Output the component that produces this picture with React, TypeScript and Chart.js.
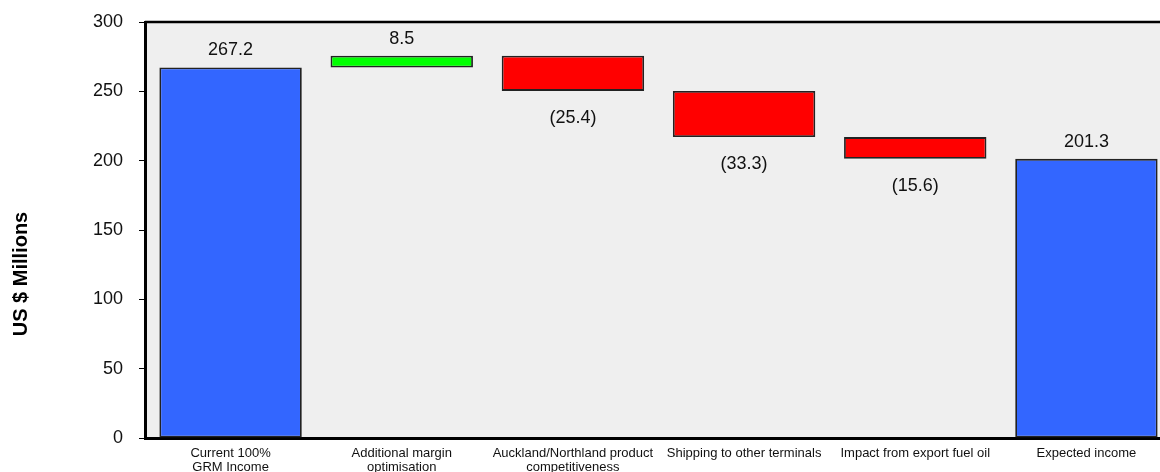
import React, { useEffect, useRef } from "react";
import { Chart, registerables } from "chart.js";

Chart.register(...registerables);

const categories: (string | string[])[] = [
  ["Current 100%", "GRM Income"],
  ["Additional margin", "optimisation"],
  ["Auckland/Northland product", "competitiveness"],
  "Shipping to other terminals",
  "Impact from export fuel oil",
  "Expected income",
];
const startValue = 267.2;
const adjustments = [8.5, -25.4, -33.3, -15.6];
const endValue = 201.3;
const yTicks = [0, 50, 100, 150, 200, 250, 300];

const FONT = "'Liberation Sans', Arial, sans-serif";

export default function App() {
  const ref = useRef<HTMLCanvasElement | null>(null);

  useEffect(() => {
    if (!ref.current) return;
    const ranges: [number, number][] = [];
    const deltas: number[] = [];
    const kinds: string[] = [];
    ranges.push([0, startValue]);
    deltas.push(startValue);
    kinds.push("total");
    let run = startValue;
    adjustments.forEach((a) => {
      ranges.push([run, run + a]);
      deltas.push(a);
      kinds.push(a >= 0 ? "up" : "down");
      run += a;
    });
    ranges.push([0, endValue]);
    deltas.push(endValue);
    kinds.push("total");
    const colors = kinds.map((k) => (k === "total" ? "#3366ff" : k === "up" ? "#00ff00" : "#ff0000"));

    const bgPlugin = {
      id: "bg",
      beforeDraw(chart: any) {
        const { ctx, chartArea: a } = chart;
        ctx.save();
        ctx.fillStyle = "#efefef";
        ctx.fillRect(a.left, a.top, a.right - a.left, a.bottom - a.top);
        ctx.restore();
      },
      afterDraw(chart: any) {
        const { ctx, chartArea: a } = chart;
        ctx.save();
        ctx.strokeStyle = "#000";
        ctx.lineWidth = 2.5;
        ctx.beginPath();
        ctx.moveTo(a.left, a.top);
        ctx.lineTo(a.right + 2, a.top);
        ctx.stroke();
        ctx.translate(21, 274);
        ctx.rotate(-Math.PI / 2);
        ctx.fillStyle = "#000";
        ctx.font = `bold 20px ${FONT}`;
        ctx.textAlign = "center";
        ctx.textBaseline = "middle";
        ctx.fillText("US $ Millions", 0, 0);
        ctx.restore();
      },
    };

    const labelPlugin = {
      id: "vals",
      afterDatasetsDraw(chart: any) {
        const { ctx } = chart;
        const meta = chart.getDatasetMeta(0);
        ctx.save();
        ctx.fillStyle = "#111";
        ctx.font = `18px ${FONT}`;
        ctx.textAlign = "center";
        ctx.textBaseline = "middle";
        meta.data.forEach((el: any, i: number) => {
          const d = deltas[i];
          const top = Math.min(el.y, el.base);
          const bottom = Math.max(el.y, el.base);
          if (d >= 0) {
            ctx.fillText(d.toFixed(1), el.x, top - 17);
          } else {
            ctx.fillText(`(${Math.abs(d).toFixed(1)})`, el.x, bottom + 27);
          }
        });
        ctx.restore();
      },
    };

    const chart = new Chart(ref.current, {
      type: "bar",
      data: {
        labels: categories,
        datasets: [
          {
            data: ranges as any,
            backgroundColor: colors,
            borderColor: "#222",
            borderWidth: 1.8,
            borderSkipped: false,
            barPercentage: 0.832,
            categoryPercentage: 1,
          },
        ],
      },
      options: {
        animation: false,
        responsive: false,
        maintainAspectRatio: false,
        layout: { padding: { top: 22, right: 4, left: 0, bottom: 0 } },
        plugins: { legend: { display: false }, tooltip: { enabled: false } },
        scales: {
          x: {
            grid: { display: false, drawTicks: false },
            border: { display: true, color: "#000", width: 3 },
            ticks: {
              color: "#111",
              font: { family: FONT, size: 13, lineHeight: 1.1 },
              padding: 8,
              maxRotation: 0,
              autoSkip: false,
            },
            afterFit(scale: any) {
              scale.height = 34;
              scale.paddingLeft = 0;
              scale.paddingRight = 0;
            },
          },
          y: {
            min: 0,
            max: 300,
            afterBuildTicks(scale: any) {
              scale.ticks = yTicks.map((v) => ({ value: v }));
            },
            grid: { drawOnChartArea: false, drawTicks: true, tickLength: 6, color: "#000", lineWidth: 1 },
            border: { display: true, color: "#000", width: 3 },
            ticks: {
              color: "#111",
              font: { family: FONT, size: 18 },
              padding: 16,
            },
            afterFit(scale: any) {
              scale.width = 145;
              scale.paddingTop = 0;
              scale.paddingBottom = 0;
            },
          },
        },
      },
      plugins: [bgPlugin, labelPlugin],
    });
    return () => chart.destroy();
  }, []);

  return (
    <div style={{ position: "fixed", left: 0, top: 0, width: 1160, height: 472, overflow: "hidden", background: "#fff" }}>
      <canvas ref={ref} width={1176} height={472} style={{ display: "block", width: 1176, height: 472 }} />
    </div>
  );
}
